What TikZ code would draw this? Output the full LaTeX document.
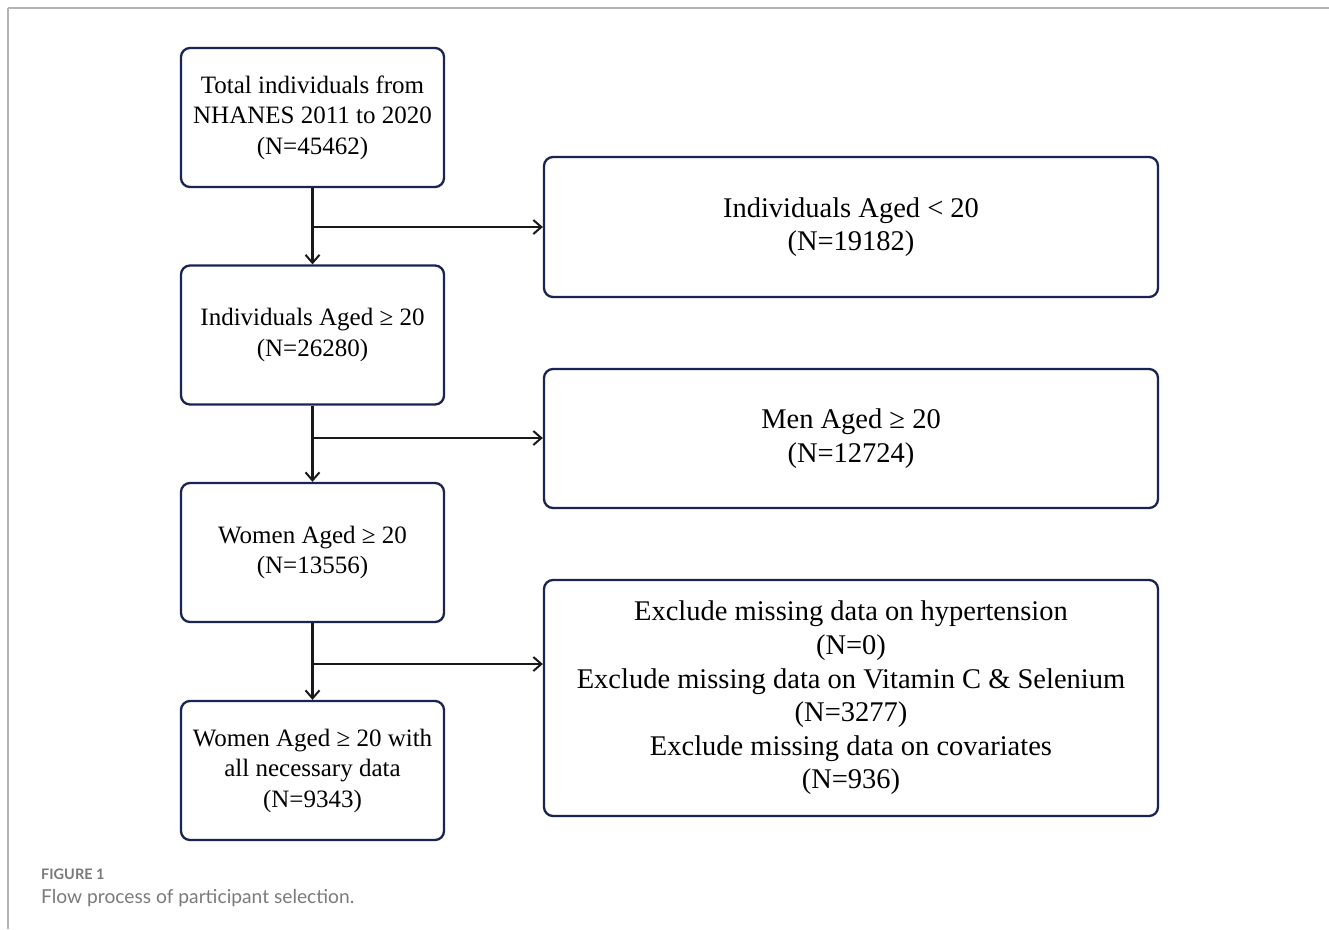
\documentclass[tikz,border=0pt]{standalone}
\usepackage{fontspec}
\setmainfont{Liberation Serif}
\newfontfamily\capfont{Lato}
\usetikzlibrary{arrows.meta}
\definecolor{boxc}{HTML}{1B2352}
\definecolor{framec}{HTML}{B4B4B4}
\definecolor{capc}{HTML}{7A7A7A}
\begin{document}
\begin{tikzpicture}[x=1pt,y=-1pt,
  lbox/.style={draw=boxc, line width=2.3pt, rounded corners=9pt, minimum width=263pt, minimum height=139pt, align=center, font=\fontsize{25}{30.5}\selectfont, inner sep=0pt},
  rbox/.style={draw=boxc, line width=2.3pt, rounded corners=9pt, minimum width=614pt, align=center, font=\fontsize{28.5}{33.6}\selectfont, inner sep=0pt},
  conn/.style={draw=black!90, line width=2.2pt},
  arr/.style={conn, -{Straight Barb[length=8pt,width=14pt,line width=2pt]}}]
\useasboundingbox (0,0) rectangle (1329,929);
\draw[framec, line width=1.5pt] (8,8) -- (1329,8) (8,8) -- (8,929);
\node[lbox] (b1) at (312.5,117.5) {Total individuals from\\NHANES 2011 to 2020\\(N=45462)};
\node[lbox] (b2) at (312.5,335) {Individuals Aged ≥ 20\\(N=26280)};
\node[lbox] (b3) at (312.5,552.5) {Women Aged ≥ 20\\(N=13556)};
\node[lbox] (b4) at (312.5,770.5) {Women Aged ≥ 20 with\\all necessary data\\(N=9343)};
\node[rbox, minimum height=140pt] (r1) at (851,227) {Individuals Aged < 20\\(N=19182)};
\node[rbox, minimum height=139pt] (r2) at (851,438.5) {Men Aged ≥ 20\\(N=12724)};
\node[rbox, minimum height=236pt] (r3) at (851,698) {Exclude missing data on hypertension\\(N=0)\\Exclude missing data on Vitamin C \& Selenium\\(N=3277)\\Exclude missing data on covariates\\(N=936)};
\coordinate (j1) at (312.5,227);
\coordinate (j2) at (312.5,438);
\coordinate (j3) at (312.5,664);
\draw[arr] (b1.south) -- (b2.north);
\draw[arr] (b2.south) -- (b3.north);
\draw[arr] (b3.south) -- (b4.north);
\draw[arr] (j1) -- (r1.west |- j1);
\draw[arr] (j2) -- (r2.west |- j2);
\draw[arr] (j3) -- (r3.west |- j3);
\node[anchor=base west, inner sep=0pt, text=capc, font=\capfont\bfseries\fontsize{14.5}{16}\selectfont] (cap1) at (41,879) {FIGURE 1};
\node[anchor=base west, inner sep=0pt, text=capc, font=\capfont\fontsize{19.2}{22}\selectfont] (cap2) at (41,903) {Flow process of participant selection.};
\end{tikzpicture}
\end{document}
